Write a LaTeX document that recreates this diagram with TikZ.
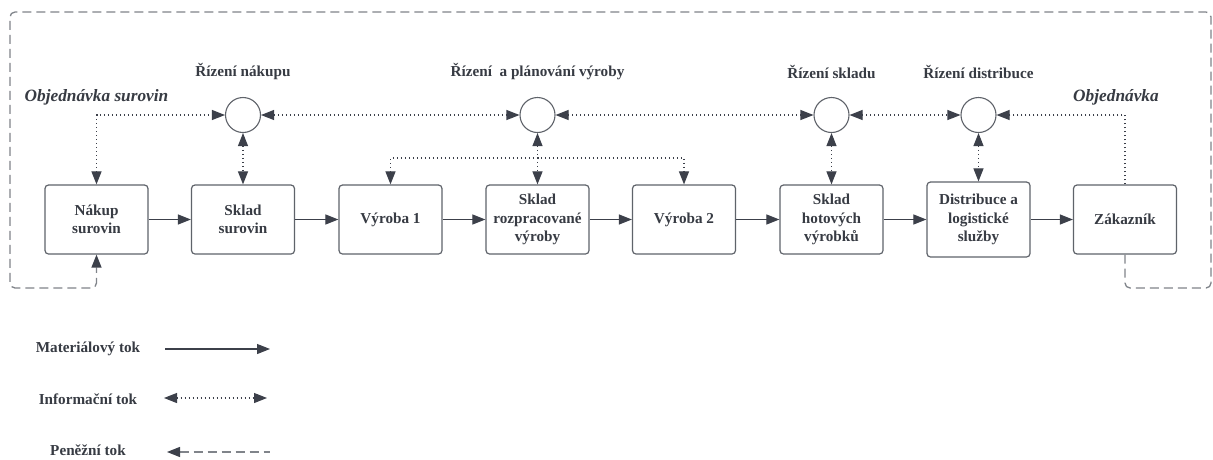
\documentclass[tikz,border=0pt]{standalone}
\usepackage{fontspec}
\setmainfont{Liberation Serif}
\usetikzlibrary{arrows.meta}
\definecolor{textcol}{RGB}{55,59,67}
\definecolor{linecol}{RGB}{60,64,74}
\definecolor{boxcol}{RGB}{95,99,106}
\definecolor{dashcol}{RGB}{128,132,138}
\tikzset{
  x=1pt, y=-1pt,
  lbl/.style={font=\fontsize{15.2}{19}\selectfont\bfseries, text=textcol, align=center, inner sep=0pt},
  ital/.style={font=\fontsize{17.3}{20}\selectfont\bfseries\itshape, text=textcol, inner sep=0pt},
  box/.style={draw=boxcol, line width=1.2pt, rounded corners=3.5pt, minimum width=103pt, minimum height=69pt, align=center, text=textcol, font=\fontsize{15.2}{18.5}\selectfont\bfseries, inner sep=2pt},
  ctl/.style={draw=boxcol, line width=1.1pt, circle, minimum size=35pt, inner sep=0pt},
  mat/.style={draw=linecol, line width=1.1pt, -{Triangle[length=13pt,width=10pt]}},
  info/.style={draw=linecol, line width=1.1pt, dash pattern=on 1pt off 3pt, {Triangle[length=13pt,width=10pt]}-{Triangle[length=13pt,width=10pt]}},
  infoone/.style={draw=linecol, line width=1.1pt, dash pattern=on 1pt off 3pt, -{Triangle[length=13pt,width=10pt]}},
  money/.style={draw=dashcol, line width=1.3pt, dash pattern=on 9pt off 5pt, rounded corners=5pt, -{Triangle[length=13pt,width=10pt,fill=linecol,color=linecol]}},
  moneyleg/.style={draw=dashcol, line width=1.3pt, dash pattern=on 9pt off 5pt, {Triangle[length=13pt,width=10pt,fill=linecol,color=linecol]}-},
}
\begin{document}
\begin{tikzpicture}
\fill[white] (0,0) rectangle (1213,459);
\useasboundingbox (0,0) rectangle (1213,459);

% boxes
\node[box] (n1) at (96.5,219.5) {Nákup\\surovin};
\node[box] (s1) at (243,219.5) {Sklad\\surovin};
\node[box] (v1) at (390.5,219.5) {Výroba 1};
\node[box] (s2) at (537.5,219.5) {Sklad\\rozpracované\\výroby};
\node[box] (v2) at (684,219.5) {Výroba 2};
\node[box] (s3) at (831.5,219.5) {Sklad\\hotových\\výrobků};
\node[box, minimum height=75pt] (d) at (978.5,219.5) {Distribuce a\\logistické\\služby};
\node[box] (z) at (1125,219.5) {Zákazník};

% control circles
\node[ctl] (c1) at (243,115) {};
\node[ctl] (c2) at (537.5,115) {};
\node[ctl] (c3) at (831.5,115) {};
\node[ctl] (c4) at (978.5,115) {};

% labels
\node[lbl] (l1) at (243,72) {Řízení nákupu};
\node[lbl] (l2) at (537.5,72) {Řízení~ a plánování výroby};
\node[lbl] (l3) at (831.5,72) {Řízení skladu};
\node[lbl] (l4) at (978.5,72) {Řízení distribuce};
\node[ital] (o1) at (96.5,97) {Objednávka surovin};
\node[ital] (o2) at (1116,97) {Objednávka};

% material flow
\draw[mat] (n1.east) -- (s1.west);
\draw[mat] (s1.east) -- (v1.west);
\draw[mat] (v1.east) -- (s2.west);
\draw[mat] (s2.east) -- (v2.west);
\draw[mat] (v2.east) -- (s3.west);
\draw[mat] (s3.east) -- (d.west);
\draw[mat] (d.east) -- (z.west);

% information flow
\draw[info] (n1.north) |- (c1.west);
\draw[info] (c1.south) -- (s1.north);
\draw[info] (c1.east) -- (c2.west);
\draw[info] (c2.south) -- (s2.north);
\coordinate (j) at (537.5,158);
\draw[info] (v1.north) |- (j) -| (v2.north);
\draw[info] (c2.east) -- (c3.west);
\draw[info] (c3.south) -- (s3.north);
\draw[info] (c3.east) -- (c4.west);
\draw[info] (c4.south) -- (d.north);
\draw[infoone] (z.north) |- (c4.east);

% money flow
\coordinate (m1) at (1125,288);
\coordinate (m2) at (1211,288);
\coordinate (m3) at (1211,12);
\coordinate (m4) at (10,12);
\coordinate (m5) at (10,288);
\coordinate (m6) at (96.5,288);
\draw[money] (z.south) -- (m1) -- (m2) -- (m3) -- (m4) -- (m5) -- (m6) -- (n1.south);

% legend
\node[lbl] (lg1) at (88,349) {Materiálový tok};
\node[lbl] (lg2) at (88,399) {Informační tok};
\node[lbl] (lg3) at (88,450) {Peněžní tok};
\coordinate (a1) at (165,349);
\coordinate (a2) at (270,349);
\coordinate (b1) at (164,398);
\coordinate (b2) at (267,398);
\coordinate (e1) at (167,452);
\coordinate (e2) at (270,452);
\draw[mat] (a1) -- (a2);
\draw[info] (b1) -- (b2);
\draw[moneyleg] (e1) -- (e2);
\end{tikzpicture}
\end{document}
